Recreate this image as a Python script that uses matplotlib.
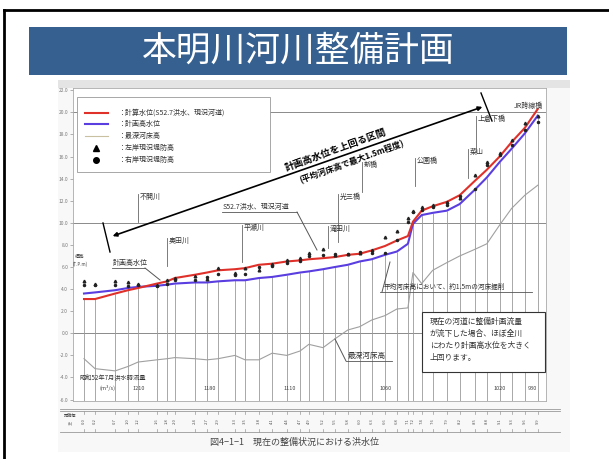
import numpy as np
import matplotlib
matplotlib.use('Agg')
import matplotlib.pyplot as plt
from matplotlib.lines import Line2D
from matplotlib.patches import Rectangle
from matplotlib.transforms import blended_transform_factory

plt.rcParams['font.family'] = ['Noto Sans CJK JP', 'DejaVu Sans']

# distance of each cross section (k) and levels (T.P.m)
sections = [0.0, 0.24, 0.68, 0.96, 1.18, 1.59, 1.81, 1.98, 2.42, 2.68, 2.92, 3.29, 3.51,
            3.81, 4.10, 4.42, 4.71, 4.90, 5.21, 5.47, 5.75, 6.01, 6.27, 6.56, 6.82, 7.06,
            7.17, 7.36, 7.60, 7.91, 8.19, 8.52, 8.78, 9.06, 9.32, 9.61, 9.89]
calc_wl = [3.1, 3.1, 3.6, 3.9, 4.1, 4.5, 4.7, 5.0, 5.3, 5.5, 5.7, 5.8, 5.9, 6.2, 6.3, 6.5,
           6.6, 6.7, 6.8, 6.9, 7.1, 7.2, 7.5, 7.9, 8.4, 8.8, 10.1, 11.1, 11.5, 11.9, 12.5,
           13.8, 14.8, 16.0, 17.3, 18.6, 20.3]
plan_hwl = [3.6, 3.7, 3.9, 4.1, 4.2, 4.3, 4.4, 4.5, 4.6, 4.6, 4.7, 4.8, 4.8, 5.0, 5.1, 5.3,
            5.5, 5.6, 5.8, 6.0, 6.2, 6.5, 6.7, 7.1, 7.4, 8.1, 9.9, 10.7, 10.9, 11.1, 11.7,
            13.0, 14.1, 15.5, 16.7, 18.1, 19.7]
deepest_bed = [-2.3, -3.2, -3.4, -3.0, -2.6, -2.4, -2.3, -2.2, -2.3, -2.4, -2.3, -2.0, -2.4,
               -2.4, -1.8, -2.0, -1.6, -1.0, -1.3, -0.5, 0.3, 0.6, 1.2, 1.6, 2.2, 2.3, 5.5,
               4.5, 5.7, 6.4, 7.0, 7.6, 8.1, 9.8, 11.3, 12.5, 13.4]
left_levee = [4.7, 4.5, 4.7, 4.6, 4.5, 4.4, 4.8, 5.0, 5.2, 4.9, 5.9, 5.5, 5.9, 5.7, 6.3, 6.6,
              6.8, 7.3, 7.6, 7.1, 7.2, 7.3, 7.5, 8.7, 9.3, 10.4, 11.1, 11.4, 11.6, 11.9, 12.2,
              14.3, 15.5, 16.3, 17.5, 19.0, 19.7]
right_levee = [4.4, 4.4, 4.4, 4.3, 4.4, 4.3, 4.5, 4.8, 4.8, 5.1, 5.4, 5.3, 5.4, 6.0, 6.1, 6.4,
               6.5, 7.0, 7.1, 7.2, 7.2, 7.4, 7.3, 7.3, 8.4, 10.1, 11.0, 11.2, 11.4, 11.6, 12.4,
               13.1, 15.2, 16.1, 17.0, 18.4, 19.1]
flow_labels = ['1210', '1180', '1110', '1060', '1020', '930']
legend_labels = ['：計算水位(S52.7洪水、現況河道)', '：計画高水位', '：最深河床高',
                 '：左岸現況堤防高', '：右岸現況堤防高']

W, H = 609, 459


def P(x, y):
    return x / W, 1 - y / H


def fline(x1, y1, x2, y2, **kw):
    a, b = P(x1, y1)
    c, d = P(x2, y2)
    fig.add_artist(Line2D([a, c], [b, d], transform=fig.transFigure, **kw))


def ftext(x, y, s, **kw):
    fig.text(*P(x, y), s, **kw)


fig = plt.figure(figsize=(W / 100, H / 100), dpi=100)

# slide frame and title
fline(4, 10, W, 10, color='k', lw=2)
fline(4, 10, 4, H, color='k', lw=2)
fig.patches.append(Rectangle(P(29, 75), 538 / W, 48 / H, transform=fig.transFigure,
                             facecolor='#36608f', edgecolor='none'))
ftext(298, 51, '本明川河川整備計画', color='white', fontsize=25, ha='center', va='center')
fig.patches.append(Rectangle(P(58, 452), 512 / W, 372 / H, transform=fig.transFigure,
                             facecolor='#f8f8f8', edgecolor='none', zorder=-1))
fig.patches.append(Rectangle(P(58, 88), 512 / W, 8 / H, transform=fig.transFigure,
                             facecolor='#e4e4e4', edgecolor='none', zorder=-1))

# main chart
ax = fig.add_axes([73 / W, 1 - 400.7 / H, 473 / W, 312.7 / H])
ax.set_xlim(-0.24, 10.07)
ax.set_ylim(-6.1, 22.2)
ax.set_facecolor('white')
for sp in ax.spines.values():
    sp.set_color('#aaaaaa')
    sp.set_linewidth(0.6)
ax.set_xticks([])
yt = np.arange(-6, 23, 2)
ax.set_yticks(yt)
ax.set_yticklabels(['%.1f' % v for v in yt])
ax.tick_params(axis='y', labelsize=3.5, colors='#777777', length=2, width=0.4, pad=1.5)
for v in [0, 10, 20]:
    ax.axhline(v, color='#8a8a8a', lw=0.7)

ax.vlines(sections, -6.1, np.minimum(calc_wl, plan_hwl), color='#9a9a9a', lw=0.6)
ax.plot(sections, deepest_bed, color='#a0a0a0', lw=0.8)
ax.plot(sections, plan_hwl, color='#5a3ee0', lw=1.5)
ax.plot(sections, calc_wl, color='#e0302a', lw=1.5)
ax.plot(sections, left_levee, '^', color='#222222', ms=1.9)
ax.plot(sections, right_levee, 'o', color='#222222', ms=1.5)

# legend
fig.patches.append(Rectangle(P(77, 172), 193 / W, 75 / H, transform=fig.transFigure,
                             facecolor='white', edgecolor='#999999', lw=0.6))
fline(85, 113, 108, 113, color='#e0302a', lw=1.5)
fline(85, 124, 108, 124, color='#5a3ee0', lw=1.5)
fline(85, 136, 108, 136, color='#c8c0a0', lw=0.8)
fig.add_artist(Line2D([P(96, 148)[0]], [P(96, 148)[1]], marker='^', color='k', ms=4,
                      transform=fig.transFigure))
fig.add_artist(Line2D([P(96, 160)[0]], [P(96, 160)[1]], marker='o', color='k', ms=4,
                      transform=fig.transFigure))
for i, lab in enumerate(legend_labels):
    ftext(118, [113, 124, 136, 148, 160][i], lab, fontsize=5, va='center', color='#333333')

# y label
ftext(80, 256, '標高', fontsize=3.5, ha='center', va='center', color='#444444')
ftext(80, 264, '(T.P.m)', fontsize=3.2, ha='center', va='center', color='#444444')

# section over planned HWL
ax.annotate('', xy=(485 / W, 1 - 106 / H), xytext=(110 / W, 1 - 237 / H),
            xycoords='figure fraction', textcoords='figure fraction',
            arrowprops=dict(arrowstyle='<|-|>', lw=1.2, color='k', mutation_scale=6))
fline(103, 223, 110, 252, color='k', lw=1.0)
fline(481, 93, 492, 121, color='k', lw=1.0)
ftext(336, 150, '計画高水位を上回る区間', fontsize=7, fontweight='bold', rotation=20,
      rotation_mode='anchor', ha='center', va='center')
ftext(352, 162, '(平均河床高で最大1.5m程度)', fontsize=6, fontweight='bold', rotation=20,
      rotation_mode='anchor', ha='center', va='center')

# tributary / bridge labels
names = [('不開川', 138, 197, 222), ('奥田川', 167, 241, 266), ('平瀬川', 242, 228, 262),
         ('滝田川', 328, 229, 248), ('光三橋', 338, 197, 242), ('新橋', 362, 165, 192),
         ('公園橋', 415, 161, 186), ('菜山', 468, 152, 178), ('上倉下橋', 476, 119, 152),
         ('JR跨線橋', 512, 106, 106)]
for s, x0, y0, y1 in names:
    ftext(x0 + 2, y0, s, fontsize=5, va='center', color='#333333')
    if y1 > y0:
        fline(x0, y0 - 3, x0, y1, color='#666666', lw=0.6)

ftext(113, 263, '計画高水位', fontsize=5, va='center', color='#333333')
fline(112, 268, 145, 268, color='#555555', lw=0.6)
fline(145, 268, 160, 280, color='#555555', lw=0.7)
ftext(223, 207, 'S52.7洪水、現況河道', fontsize=5, va='center', color='#333333')
fline(222, 212, 297, 212, color='#555555', lw=0.6)
fline(297, 212, 317, 250, color='#555555', lw=0.7)
ftext(384, 287, '平均河床高において、約1.5mの河床掘削', fontsize=4.8, va='center',
      color='#333333')
fline(380, 292, 532, 292, color='#555555', lw=0.6)
fline(382, 292, 390, 262, color='#555555', lw=0.7)
ftext(348, 356, '最深河床高', fontsize=5.5, va='center', color='#333333')
fline(346, 361, 392, 361, color='#555555', lw=0.6)
fline(346, 361, 335, 339, color='#555555', lw=0.7)

# comment box
fig.patches.append(Rectangle(P(422, 372), 123 / W, 60 / H, transform=fig.transFigure,
                             facecolor='white', edgecolor='#333333', lw=0.8))
for i, s in enumerate(['現在の河道に整備計画流量', 'が流下した場合、ほぼ全川',
                       'にわたり計画高水位を大きく', '上回ります。']):
    ftext(430, 322 + 12 * i, s, fontsize=5.6, va='center', color='#333333')

# flow rate row
ftext(80, 378, '昭和52年7月洪水時流量', fontsize=4.5, va='center', color='#333333')
ftext(100, 388, '(m³/s)', fontsize=4, va='center', color='#444444')
for s, x in zip(flow_labels, [133, 204, 284, 380, 494, 528]):
    ftext(x, 388, s, fontsize=4, va='center', color='#444444')

# distance table
for y in [409, 411, 432]:
    fline(60, y, 560, y, color='#999999', lw=0.6)
ftext(70, 416, '距離標', fontsize=3, ha='center', va='center', color='#444444')
ftext(70, 423, '(k)', fontsize=3, ha='center', va='center', color='#444444')
bt = blended_transform_factory(ax.transData, fig.transFigure)
for s in sections:
    ax.text(s, P(0, 421)[1], '%.1f' % s, transform=bt, rotation=90, fontsize=3,
            ha='center', va='center', color='#555555', clip_on=False)
    ax.plot([s, s], [P(0, 411)[1], P(0, 414)[1]], transform=bt, color='#999999',
            lw=0.5, clip_on=False)
    ax.plot([s, s], [P(0, 429)[1], P(0, 432)[1]], transform=bt, color='#999999',
            lw=0.5, clip_on=False)

ftext(294, 442, '図4−1−1　現在の整備状況における洪水位', fontsize=6.5, ha='center',
      va='center', color='#444444')

fig.savefig('out.png', dpi=100)
